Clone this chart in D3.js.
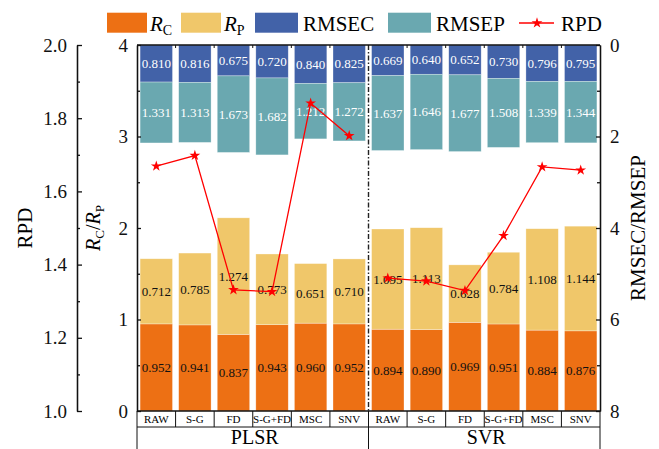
<!DOCTYPE html>
<html>
<head>
<meta charset="utf-8">
<script src="https://cdn.jsdelivr.net/npm/d3@7"></script>
<style>
	body { margin: 0; background: #fff; }
	svg { display: block; font-family: "Liberation Serif", "Times New Roman", serif; }
</style>
</head>
<body>
<div id="chart"></div>
<script>
// data
let models = ['PLSR', 'SVR']
let methods = ['RAW', 'S-G', 'FD', 'S-G+FD', 'MSC', 'SNV']

let rc = [0.952, 0.941, 0.837, 0.943, 0.960, 0.952, 0.894, 0.890, 0.969, 0.951, 0.884, 0.876]
let rp = [0.712, 0.785, 1.274, 0.773, 0.651, 0.710, 1.095, 1.113, 0.628, 0.784, 1.108, 1.144]
let rmsec = [0.810, 0.816, 0.675, 0.720, 0.840, 0.825, 0.669, 0.640, 0.652, 0.730, 0.796, 0.795]
let rmsep = [1.331, 1.313, 1.673, 1.682, 1.212, 1.272, 1.637, 1.646, 1.677, 1.508, 1.339, 1.344]
let rpd = [1.669, 1.698, 1.331, 1.326, 1.841, 1.752, 1.363, 1.355, 1.329, 1.479, 1.667, 1.658]

let COLORS = {
	rc: '#ED7014',
	rp: '#F0C76A',
	rmsec: '#4262A8',
	rmsep: '#6AA8B0',
	rpd: '#FF0000',
}

let W = 659, H = 449
let plot = { left: 137, right: 600, top: 45, bottom: 411 }
let RPD_AXIS_X = 77

let svg = d3.select('#chart').append('svg')
	.attr('width', W)
	.attr('height', H)

let keys = []
models.forEach((m) => methods.forEach((k) => keys.push(`${m}|${k}`)))

let rows = keys.map((key, i) => ({
	key: key,
	model: key.split('|')[0],
	method: key.split('|')[1],
	rc: rc[i], rp: rp[i], rmsec: rmsec[i], rmsep: rmsep[i], rpd: rpd[i],
}))

let x = d3.scaleBand()
	.domain(keys)
	.range([plot.left, plot.right])
	.paddingInner(0.16)
	.paddingOuter(0.08)

let step = x.step()
let edge = (i) => plot.left + i * step

let yR = d3.scaleLinear().domain([0, 4]).range([plot.bottom, plot.top])
let yE = d3.scaleLinear().domain([0, 8]).range([plot.top, plot.bottom])
let yD = d3.scaleLinear().domain([1, 2]).range([plot.bottom, plot.top])

// bars
let bars = svg.append('g')

function segment(cls, color, y0, y1, value, textColor) {
	bars.selectAll(`rect.${cls}`)
		.data(rows)
		.enter().append('rect')
			.attr('class', cls)
			.attr('x', (d) => x(d.key))
			.attr('width', x.bandwidth())
			.attr('y', (d) => Math.min(y0(d), y1(d)))
			.attr('height', (d) => Math.abs(y1(d) - y0(d)))
			.attr('fill', color)
			.attr('stroke', '#fff')
			.attr('stroke-opacity', 0.5)
			.attr('stroke-width', 0.6)

	bars.selectAll(`text.${cls}`)
		.data(rows)
		.enter().append('text')
			.attr('class', cls)
			.attr('x', (d) => x(d.key) + x.bandwidth() / 2)
			.attr('y', (d) => (y0(d) + y1(d)) / 2)
			.attr('dy', '0.35em')
			.attr('text-anchor', 'middle')
			.attr('font-size', 13)
			.attr('fill', textColor)
			.text((d) => value(d).toFixed(3))
}

segment('rc', COLORS.rc, (d) => yR(0), (d) => yR(d.rc), (d) => d.rc, '#111')
segment('rp', COLORS.rp, (d) => yR(d.rc), (d) => yR(d.rc + d.rp), (d) => d.rp, '#111')
segment('rmsec', COLORS.rmsec, (d) => yE(0), (d) => yE(d.rmsec), (d) => d.rmsec, '#fff')
segment('rmsep', COLORS.rmsep, (d) => yE(d.rmsec), (d) => yE(d.rmsec + d.rmsep), (d) => d.rmsep, '#fff')

// dash-dot separator between models
svg.append('line')
	.attr('x1', edge(6)).attr('x2', edge(6))
	.attr('y1', plot.top).attr('y2', plot.bottom)
	.attr('stroke', '#222')
	.attr('stroke-width', 1.4)
	.attr('stroke-dasharray', '5,2,1.5,2')

// RPD line
let centre = (d) => x(d.key) + x.bandwidth() / 2
let rpdLine = d3.line()
	.x(centre)
	.y((d) => yD(d.rpd))

models.forEach((m) => {
	svg.append('path')
		.datum(rows.filter((d) => d.model === m))
		.attr('d', rpdLine)
		.attr('fill', 'none')
		.attr('stroke', COLORS.rpd)
		.attr('stroke-width', 1.3)
})

svg.append('g').selectAll('path')
	.data(rows)
	.enter().append('path')
		.attr('d', d3.symbol(d3.symbolStar, 36))
		.attr('transform', (d) => `translate(${centre(d)}, ${yD(d.rpd)})`)
		.attr('fill', COLORS.rpd)

// axes
function styleAxis(g, fontSize) {
	g.selectAll('text')
		.attr('font-size', fontSize)
		.attr('font-family', '"Liberation Serif", serif')
		.attr('fill', '#111')
	g.selectAll('line, path').attr('stroke', '#111').attr('stroke-width', 1.3)
}

let rpdAxis = svg.append('g')
	.attr('transform', `translate(${RPD_AXIS_X}, 0)`)
	.call(d3.axisLeft(yD).tickValues([1.0, 1.2, 1.4, 1.6, 1.8, 2.0]).tickFormat(d3.format('.1f'))
		.tickSizeInner(-5).tickSizeOuter(0).tickPadding(10))
styleAxis(rpdAxis, 19)
let rpdMinor = svg.append('g')
	.attr('transform', `translate(${RPD_AXIS_X}, 0)`)
	.call(d3.axisLeft(yD).tickValues([1.1, 1.3, 1.5, 1.7, 1.9]).tickFormat('')
		.tickSizeInner(-3).tickSizeOuter(0))
styleAxis(rpdMinor, 19)

let rAxis = svg.append('g')
	.attr('transform', `translate(${plot.left}, 0)`)
	.call(d3.axisLeft(yR).tickValues([0, 1, 2, 3, 4]).tickFormat(d3.format('d'))
		.tickSizeInner(-4).tickSizeOuter(0).tickPadding(9))
styleAxis(rAxis, 19)
let rMinor = svg.append('g')
	.attr('transform', `translate(${plot.left}, 0)`)
	.call(d3.axisLeft(yR).tickValues([0.5, 1.5, 2.5, 3.5]).tickFormat('')
		.tickSizeInner(-3).tickSizeOuter(0))
styleAxis(rMinor, 19)

let eAxis = svg.append('g')
	.attr('transform', `translate(${plot.right}, 0)`)
	.call(d3.axisRight(yE).tickValues([0, 2, 4, 6, 8]).tickFormat(d3.format('d'))
		.tickSizeInner(-4).tickSizeOuter(0).tickPadding(10))
styleAxis(eAxis, 19)
let eMinor = svg.append('g')
	.attr('transform', `translate(${plot.right}, 0)`)
	.call(d3.axisRight(yE).tickValues([1, 3, 5, 7]).tickFormat('')
		.tickSizeInner(-3).tickSizeOuter(0))
styleAxis(eMinor, 19)

// top frame with ticks at band edges
svg.append('line')
	.attr('x1', plot.left).attr('x2', plot.right)
	.attr('y1', plot.top).attr('y2', plot.top)
	.attr('stroke', '#111').attr('stroke-width', 1.3)
svg.append('g').selectAll('line')
	.data(d3.range(1, keys.length).filter((i) => i !== 6))
	.enter().append('line')
		.attr('x1', edge).attr('x2', edge)
		.attr('y1', plot.top).attr('y2', plot.top + 3)
		.attr('stroke', '#111').attr('stroke-width', 1)

// axis titles
svg.append('text')
	.attr('transform', `translate(25, ${(plot.top + plot.bottom) / 2}) rotate(-90)`)
	.attr('dy', '0.35em')
	.attr('text-anchor', 'middle')
	.attr('font-size', 21)
	.text('RPD')

let rTitle = svg.append('text')
	.attr('transform', `translate(93, ${(plot.top + plot.bottom) / 2}) rotate(-90)`)
	.attr('dy', '0.35em')
	.attr('text-anchor', 'middle')
	.attr('font-size', 20)
rTitle.append('tspan').attr('font-style', 'italic').text('R')
rTitle.append('tspan').attr('font-size', 13).attr('dy', 4).text('C')
rTitle.append('tspan').attr('dy', -4).text('/')
rTitle.append('tspan').attr('font-style', 'italic').text('R')
rTitle.append('tspan').attr('font-size', 13).attr('dy', 4).text('P')

svg.append('text')
	.attr('transform', `translate(637.5, ${(plot.top + plot.bottom) / 2}) rotate(-90)`)
	.attr('dy', '0.35em')
	.attr('text-anchor', 'middle')
	.attr('font-size', 21)
	.text('RMSEC/RMSEP')

// category table under the plot
let ROW1 = { top: plot.bottom, bottom: 427 }
let table = svg.append('g')
	.attr('stroke', '#111')
	.attr('stroke-width', 1)

table.append('line')
	.attr('x1', plot.left).attr('x2', plot.right)
	.attr('y1', ROW1.top).attr('y2', ROW1.top)
	.attr('stroke-width', 1.3)
table.append('line')
	.attr('x1', plot.left).attr('x2', plot.right)
	.attr('y1', ROW1.bottom).attr('y2', ROW1.bottom)
table.selectAll('line.cell')
	.data(d3.range(0, keys.length + 1))
	.enter().append('line')
		.attr('class', 'cell')
		.attr('x1', edge).attr('x2', edge)
		.attr('y1', ROW1.top).attr('y2', ROW1.bottom)
table.selectAll('line.group')
	.data([0, 6, 12])
	.enter().append('line')
		.attr('class', 'group')
		.attr('x1', edge).attr('x2', edge)
		.attr('y1', ROW1.bottom).attr('y2', H + 2)

svg.append('g').selectAll('text')
	.data(rows)
	.enter().append('text')
		.attr('x', centre)
		.attr('y', 423)
		.attr('text-anchor', 'middle')
		.attr('font-size', 11)
		.text((d) => d.method)

svg.append('g').selectAll('text')
	.data(models)
	.enter().append('text')
		.attr('x', (d, i) => (edge(i * 6) + edge(i * 6 + 6)) / 2 + 2)
		.attr('y', 444)
		.attr('text-anchor', 'middle')
		.attr('font-size', 20)
		.text((d) => d)

// legend
let legendItems = [
	{ color: COLORS.rc, x: 107, label: 'R', sub: 'C' },
	{ color: COLORS.rp, x: 181, label: 'R', sub: 'P' },
	{ color: COLORS.rmsec, x: 255, label: 'RMSEC' },
	{ color: COLORS.rmsep, x: 388, label: 'RMSEP' },
]
let legend = svg.append('g')

legendItems.forEach((item) => {
	legend.append('rect')
		.attr('x', item.x)
		.attr('y', 12.7)
		.attr('width', item.sub ? 40 : 43)
		.attr('height', 20)
		.attr('fill', item.color)
	let t = legend.append('text')
		.attr('x', item.x + (item.sub ? 43 : 48))
		.attr('y', 31)
		.attr('font-size', 21)
	if (item.sub) {
		t.append('tspan').attr('font-style', 'italic').text(item.label)
		t.append('tspan').attr('font-size', 14).attr('dy', 4).text(item.sub)
	} else {
		t.text(item.label)
	}
})

legend.append('line')
	.attr('x1', 519).attr('x2', 554)
	.attr('y1', 23).attr('y2', 23)
	.attr('stroke', COLORS.rpd)
	.attr('stroke-width', 1.3)
legend.append('path')
	.attr('d', d3.symbol(d3.symbolStar, 36))
	.attr('transform', 'translate(537, 23)')
	.attr('fill', COLORS.rpd)
legend.append('text')
	.attr('x', 561)
	.attr('y', 31)
	.attr('font-size', 21)
	.text('RPD')
</script>
</body>
</html>
